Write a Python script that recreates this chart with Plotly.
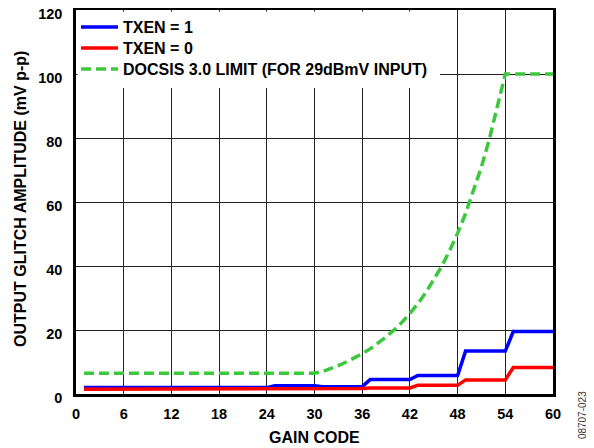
import plotly.graph_objects as go

gain_code = list(range(1, 61))

txen1 = [2.0] * 24 + [2.6] * 6 + [2.3] * 6 + [4.5] * 6 + [5.8] * 6 + [13.4] * 6 + [19.5] * 6
txen0 = [1.5] * 30 + [1.7] * 6 + [1.9] * 6 + [2.7] * 6 + [4.4] * 6 + [8.3] * 6
docsis = [6.5] * 30 + [7.0, 7.9, 8.9, 10.0, 11.2, 12.6, 14.1, 15.9, 17.8, 20.0, 22.4, 25.2,
                       28.2, 31.7, 35.6, 39.9, 44.8, 50.2, 56.4, 63.3, 71.0, 79.7, 89.4, 100.0] + [100.0] * 6

x_ticks = [0, 6, 12, 18, 24, 30, 36, 42, 48, 54, 60]
y_ticks = [0, 20, 40, 60, 80, 100, 120]

FONT = "Liberation Sans, Arial, sans-serif"

fig = go.Figure()
fig.add_trace(go.Scatter(x=gain_code, y=txen1, mode="lines", name="<b>TXEN = 1</b>",
                         line=dict(color="#0000FF", width=3.5), legend="legend"))
fig.add_trace(go.Scatter(x=gain_code, y=txen0, mode="lines", name="<b>TXEN = 0</b>",
                         line=dict(color="#FF0000", width=3.5), legend="legend2"))
fig.add_trace(go.Scatter(x=gain_code, y=docsis, mode="lines",
                         name="<b>DOCSIS 3.0 LIMIT (FOR 29dBmV INPUT)</b>",
                         line=dict(color="#3CC83C", width=3.5, dash="10px,5px"), legend="legend3"))

# white panel behind the legend, hiding the grid there
fig.add_shape(type="rect", xref="x", yref="y", xsizemode="pixel", ysizemode="pixel",
              xanchor=0, yanchor=120, x0=1.5, x1=364, y0=-78, y1=-1.5,
              fillcolor="white", line=dict(width=0), layer="above")

fig.add_annotation(text="08707-023", xref="paper", yref="paper", x=1.0608, y=-0.055,
                   xanchor="center", yanchor="middle",
                   textangle=-90, showarrow=False, font=dict(family=FONT, size=10, color="#333333"))
fig.add_annotation(text="<b>GAIN CODE</b>", xref="paper", yref="paper", x=0.5, y=-0.112,
                   xanchor="center", yanchor="middle", showarrow=False,
                   font=dict(family=FONT, size=16, color="black"))
fig.add_annotation(text="<b>OUTPUT GLITCH AMPLITUDE (mV p-p)</b>", xref="paper", yref="paper",
                   x=-0.1153, y=0.508, xanchor="center", yanchor="middle", textangle=-90,
                   showarrow=False, font=dict(family=FONT, size=16, color="black"))

axis_common = dict(showline=True, linecolor="black", linewidth=2.5, mirror=True,
                   showgrid=True, gridcolor="#222222", gridwidth=1, zeroline=False,
                   ticks="", automargin=False, ticklabeloverflow="allow",
                   tickfont=dict(family=FONT, size=14.5, color="black"))

fig.update_xaxes(range=[0, 60], tickvals=x_ticks, ticktext=[f"<b>{v}</b>" for v in x_ticks],
                 ticklabelstandoff=5, **axis_common)
fig.update_yaxes(range=[0, 120], tickvals=y_ticks, ticktext=[f"<b>{v}</b>" for v in y_ticks],
                 ticklabelstandoff=8, ticklabelshift=4, **axis_common)

leg_common = dict(x=0, xanchor="left", yanchor="middle", bgcolor="rgba(0,0,0,0)",
                  font=dict(family=FONT, size=16, color="black"), borderwidth=0, itemwidth=37)

fig.update_layout(
    width=586, height=440,
    margin=dict(l=68, r=41, t=2, b=54, autoexpand=False),
    paper_bgcolor="white", plot_bgcolor="white",
    font=dict(family=FONT, color="black"),
    showlegend=True,
    legend=dict(y=0.9557, **leg_common),
    legend2=dict(y=0.9010, **leg_common),
    legend3=dict(y=0.8464, **leg_common),
)

fig.write_html("out.html")
